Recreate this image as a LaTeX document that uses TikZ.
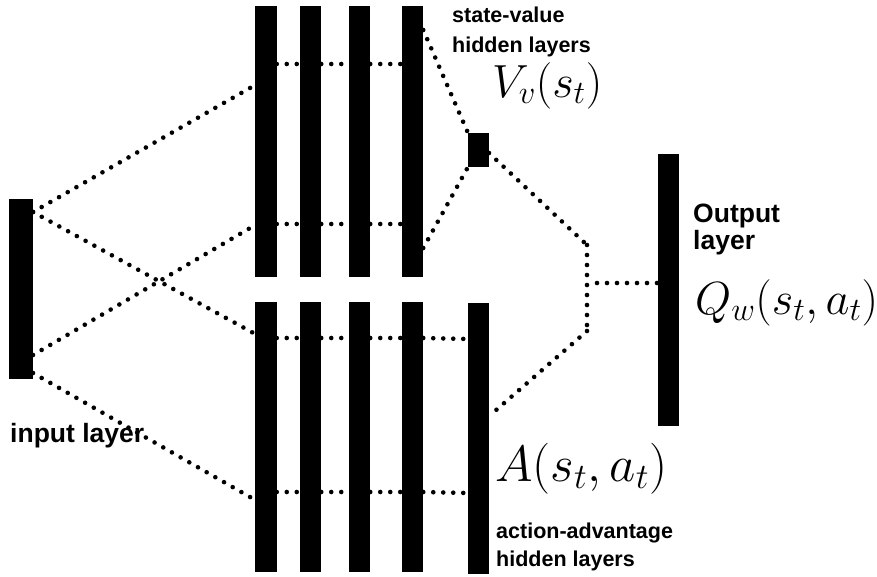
\RequirePackage{fix-cm}
\documentclass[tikz,border=0pt]{standalone}
\usepackage{fontspec}
\setsansfont{Liberation Sans}
\usetikzlibrary{calc}
\tikzset{
  bar/.style={rectangle, fill=black, inner sep=0pt, outer sep=0pt, minimum width=21.5pt},
  dots/.style={line width=4.6pt, line cap=round, dash pattern=on 0pt off 10pt},
  smalllab/.style={font=\sffamily\bfseries\fontsize{21.5}{26}\selectfont, inner sep=0pt, anchor=base west},
  biglab/.style={font=\sffamily\bfseries\fontsize{26.5}{30}\selectfont, inner sep=0pt, anchor=base west},
  mathlab/.style={font=\fontsize{46.5}{50}\selectfont, inner sep=0pt, anchor=base west}
}
\begin{document}
\begin{tikzpicture}[x=1pt,y=-1pt]
\fill[white] (0,0) rectangle (877,576);
\useasboundingbox (0,0) rectangle (877,576);
% layers
\node[bar, minimum width=24pt, minimum height=180pt] (in) at (21,289) {};
\node[bar, minimum height=271pt] (t1) at (266,141.5) {};
\node[bar, minimum height=271pt] (t2) at (310.5,141.5) {};
\node[bar, minimum height=271pt] (t3) at (359.5,141.5) {};
\node[bar, minimum height=271pt] (t4) at (412.5,141.5) {};
\node[bar, minimum height=270pt] (b1) at (266,437) {};
\node[bar, minimum height=270pt] (b2) at (310.5,437) {};
\node[bar, minimum height=270pt] (b3) at (359.5,437) {};
\node[bar, minimum height=270pt] (b4) at (412.5,437) {};
\node[bar, minimum height=271pt] (b5) at (478.5,438.5) {};
\node[bar, minimum width=21pt, minimum height=34pt] (v) at (478.5,150) {};
\node[bar, minimum width=21pt, minimum height=272pt] (out) at (668.5,290) {};
\coordinate (m1) at (587,245);
\coordinate (m2) at (587,331);
\coordinate (mo) at (597,283);
% input connections
\draw[dots] ($(in.north east)+(0,13)$) -- ($(t1.north west)+(0,79)$);
\draw[dots] ($(in.north east)+(0,13)$) -- ($(b1.north west)+(0,32)$);
\draw[dots] ($(in.north east)+(0,156)$) -- ($(t1.north west)+(0,219)$);
\draw[dots] ($(in.south east)+(0,-6)$) -- ($(b1.north west)+(0,198)$);
% top horizontals
\foreach \a/\b in {t1/t2,t2/t3,t3/t4}{
  \draw[dots] ($(\a.north east)+(0,58)$) -- ($(\b.north west)+(0,58)$);
  \draw[dots] ($(\a.north east)+(0,218)$) -- ($(\b.north west)+(0,218)$);
}
% bottom horizontals
\foreach \a/\b in {b1/b2,b2/b3,b3/b4,b4/b5}{
  \draw[dots] ($(\a.north east)+(0,36)$) -- ($(\b.north west)+(0,36)$);
  \draw[dots] ($(\a.north east)+(0,190)$) -- ($(\b.north west)+(0,190)$);
}
% state value
\draw[dots] ($(t4.north east)+(0,24)$) -- (v.north west);
\draw[dots] ($(t4.north east)+(0,242)$) -- (v.south west);
% merge
\draw[dots] ($(v.north east)+(0,20)$) -- (m1);
\draw[dots] (m1) -- (m2);
\draw[dots] (m2) -- ($(b5.north east)+(0,113)$);
\draw[dots] (mo) -- ($(out.north west)+(0,129)$);
% labels
\node[smalllab] (sv1) at (452,22) {state-value};
\node[smalllab] (sv2) at (452,52) {hidden layers};
\node[mathlab] (vlab) at (492,97) {$V_v(s_t)$};
\node[biglab] (ol1) at (693,222) {Output};
\node[biglab] (ol2) at (693,249) {layer};
\node[mathlab] (qlab) at (695,314) {$Q_w(s_t,a_t)$};
\node[biglab] (il) at (10,442) {input layer};
\node[mathlab, font=\fontsize{51}{55}\selectfont] (alab) at (495,481) {$A(s_t,a_t)$};
\node[smalllab] (aa1) at (496,538) {action-advantage};
\node[smalllab] (aa2) at (496,566) {hidden layers};
\end{tikzpicture}
\end{document}
